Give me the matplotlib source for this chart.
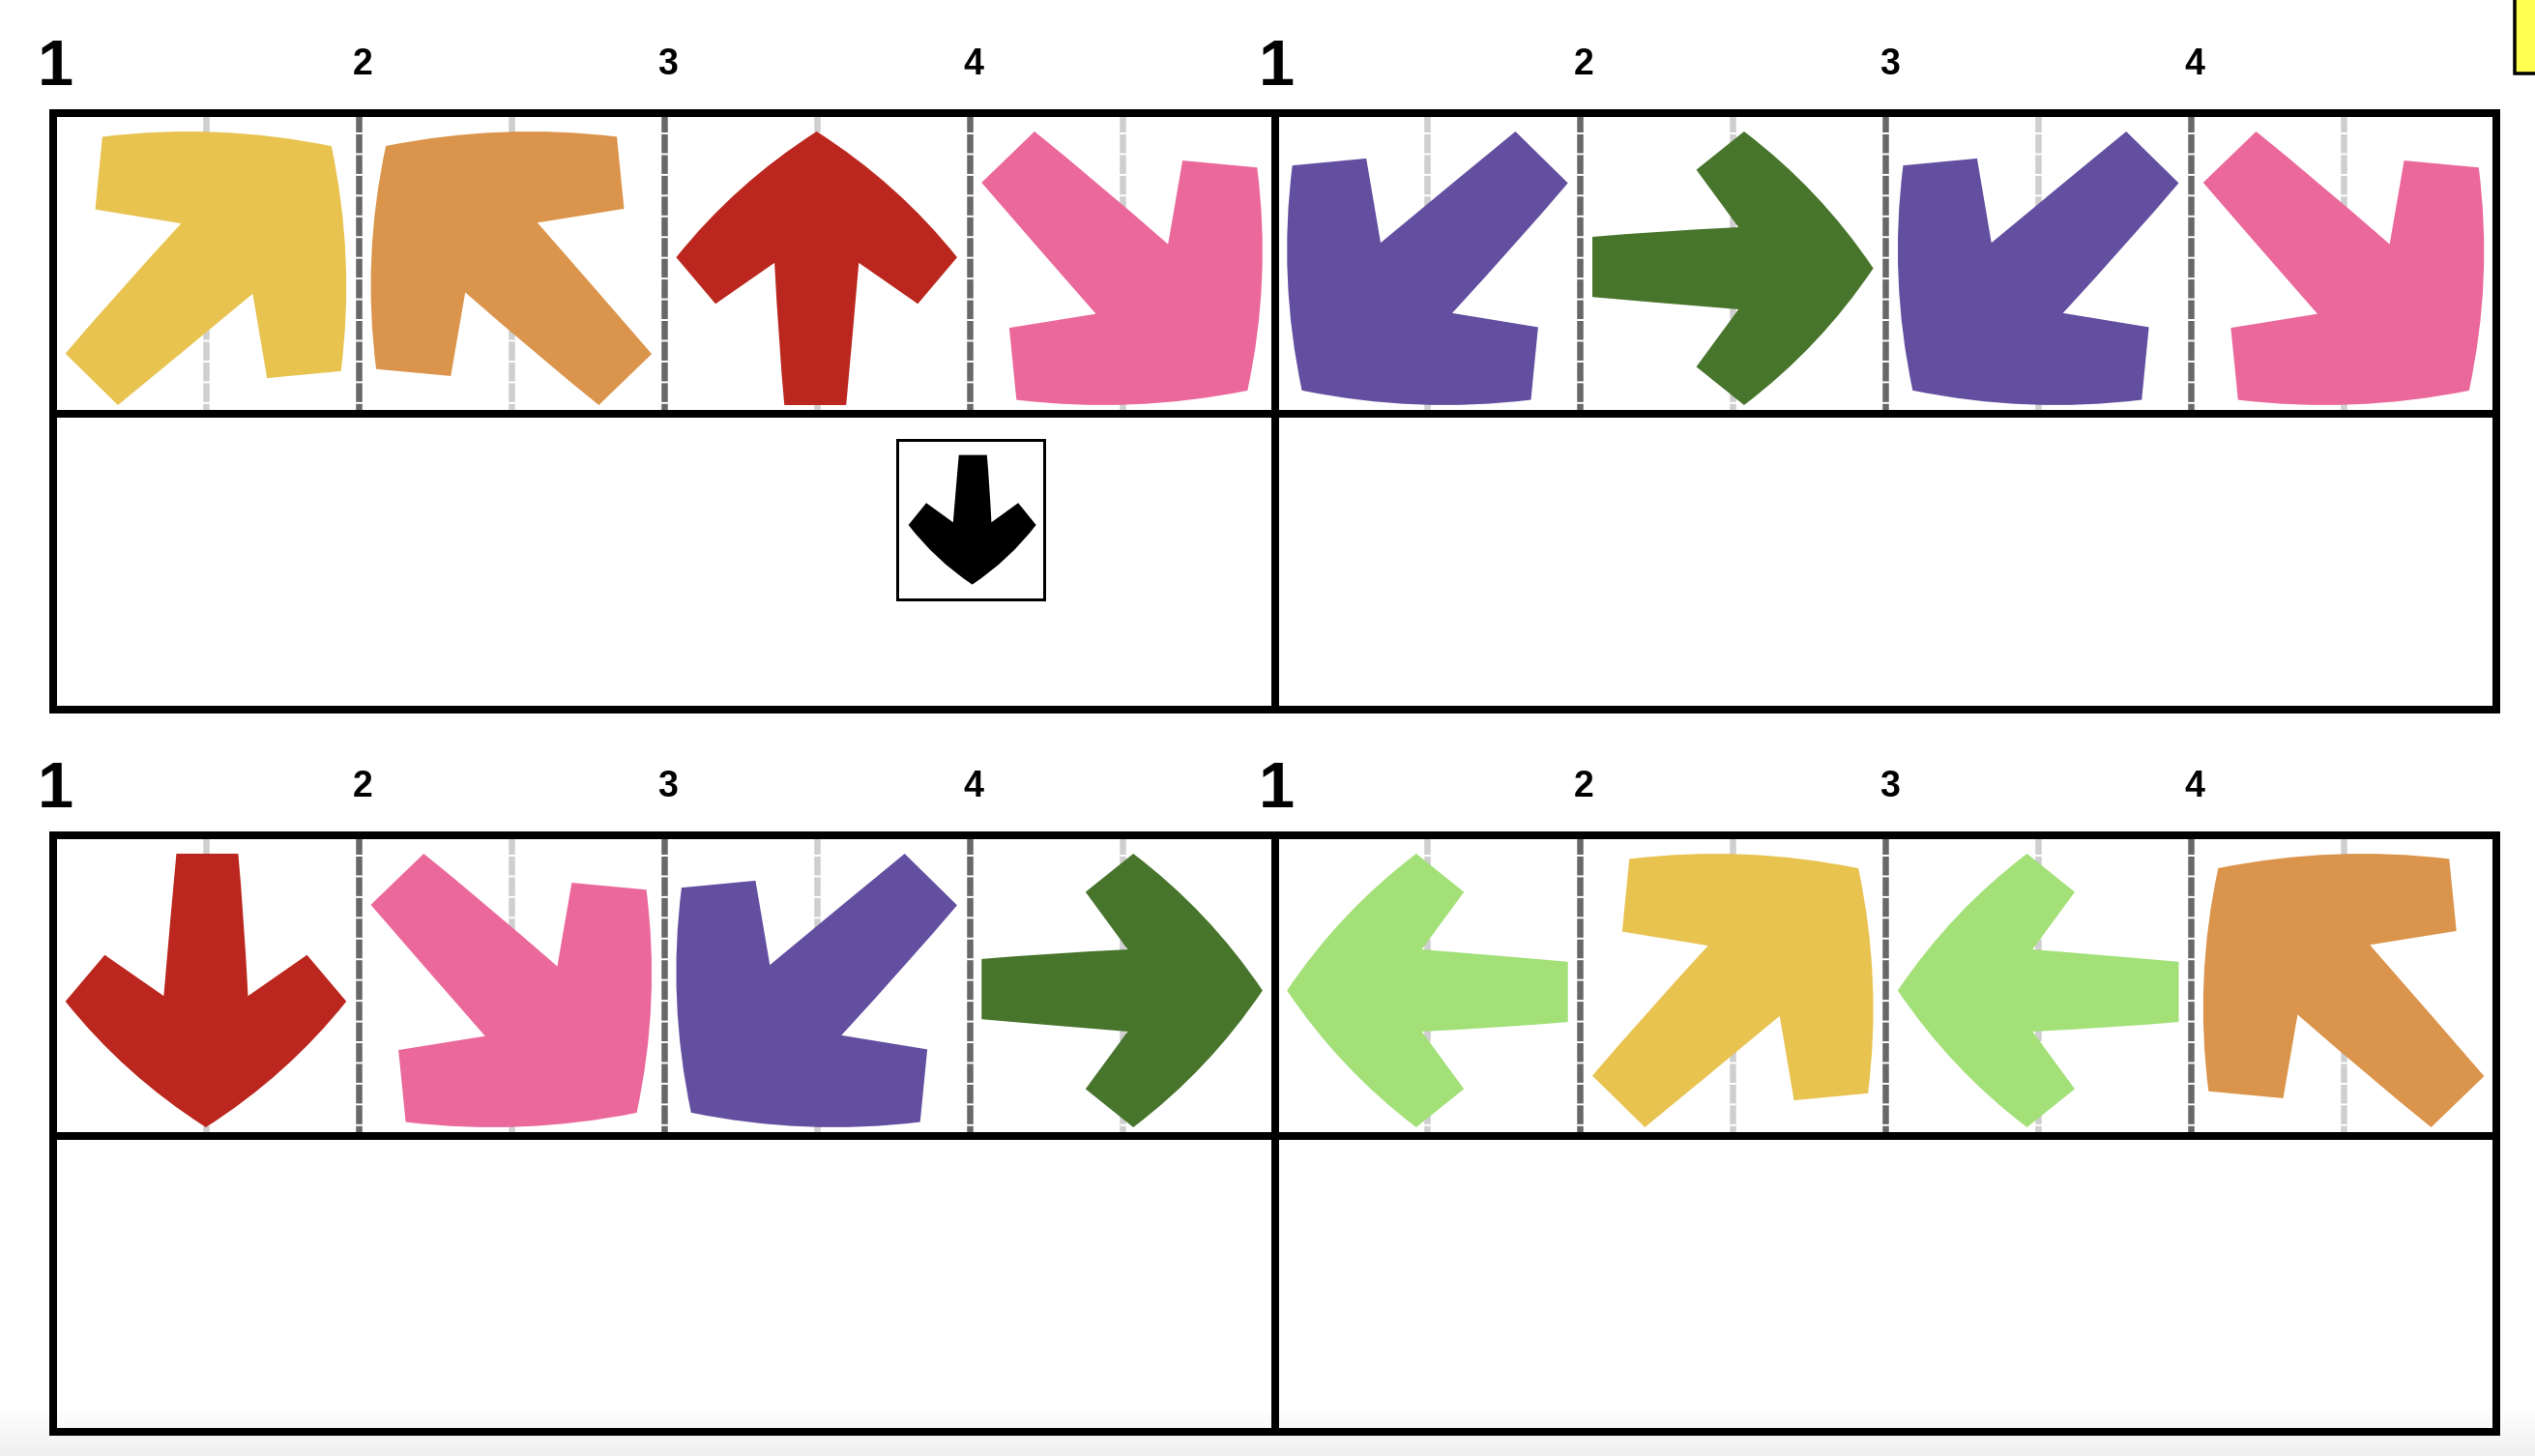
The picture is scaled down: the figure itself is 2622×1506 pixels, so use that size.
"""舞步谱面示意图：两行、每行两小节，每拍一个方向箭头。"""

import matplotlib

matplotlib.use("Agg")

import matplotlib.pyplot as plt
from matplotlib.patches import PathPatch, Rectangle
from matplotlib.path import Path
from matplotlib.transforms import Affine2D
import numpy as np

OUTPUT_PATH = "out.png"

# 谱面数据：每行 8 拍（2 小节 × 4 拍）
ROW_1_STEPS = ["UR", "UL", "U", "DR", "DL", "R", "DL", "DR"]
ROW_2_STEPS = ["D", "DR", "DL", "R", "L", "UR", "L", "UL"]
BEAT_LABELS = ["1", "2", "3", "4"]

# 下方提示框里的箭头（行号、拍位置）
HINT_STEPS = ["D"]
HINT_ROWS = [0]
HINT_BEATS = [3.0]

DIRECTION_ANGLES = {"U": 90, "UR": 45, "R": 0, "DR": -45,
                    "D": -90, "DL": -135, "L": 180, "UL": 135}
DIRECTION_COLORS = {
    "U": "#BB271E", "D": "#BB271E",
    "UR": "#E8C350", "UL": "#DB944B",
    "DR": "#EB689B", "DL": "#634FA0",
    "R": "#48752C", "L": "#A3E078",
}

# 版面（像素坐标）
FIG_W, FIG_H = 2622, 1506
X_LEFT = 55.0
MEASURE_W = 1263.5
BEAT_W = MEASURE_W / 4
ROW_TOP = [117.0, 864.0]
ROW_MID = [428.0, 1175.0]
ROW_BOTTOM = [734.0, 1481.0]
LABEL_BASE_BIG = [88.0, 835.0]
LABEL_BASE_SMALL = [77.0, 824.0]

PX = 0.72  # 像素 -> 磅
LINE_BLACK = 8 * PX
BEAT_LINE_COLOR = "#686868"
HALF_LINE_COLOR = "#CFCFCF"
LABEL_FONT = ["Liberation Sans", "DejaVu Sans"]


def arrow_path():
    """朝上的箭头轮廓（单位框内），外侧边略带弧度。"""
    verts = [
        (0.0, 0.50),
        (-0.29, 0.31), (-0.50, 0.04),
        (-0.36, -0.13),
        (-0.15, 0.02),
        (-0.135, -0.28), (-0.115, -0.50),
        (0.105, -0.50),
        (0.125, -0.28), (0.15, 0.02),
        (0.36, -0.13),
        (0.50, 0.04),
        (0.29, 0.31), (0.0, 0.50),
        (0.0, 0.50),
    ]
    codes = [Path.MOVETO, Path.CURVE3, Path.CURVE3, Path.LINETO, Path.LINETO,
             Path.CURVE3, Path.CURVE3, Path.LINETO, Path.CURVE3, Path.CURVE3,
             Path.LINETO, Path.LINETO, Path.CURVE3, Path.CURVE3, Path.CLOSEPOLY]
    return Path(verts, codes)


def place_arrow(ax, direction, cx, cy, width, height, color, zorder=5):
    rotated = arrow_path().transformed(Affine2D().rotate_deg(DIRECTION_ANGLES[direction] - 90))
    ext = rotated.get_extents()
    to_cell = (Affine2D()
               .translate(-(ext.x0 + ext.x1) / 2, -(ext.y0 + ext.y1) / 2)
               .scale(width / ext.width, -height / ext.height)
               .translate(cx, cy))
    ax.add_patch(PathPatch(rotated.transformed(to_cell), facecolor=color,
                           edgecolor="none", zorder=zorder))


def main():
    fig = plt.figure(figsize=(FIG_W / 100, FIG_H / 100), dpi=100, facecolor="white")
    ax = fig.add_axes((0, 0, 1, 1))
    ax.axis("off")

    # 底部淡灰渐变
    grad = np.linspace(1.0, 0.94, 50).reshape(-1, 1)
    ax.imshow(np.dstack([grad, grad, grad]), extent=(0, FIG_W, FIG_H, 1456),
              aspect="auto", zorder=0)
    ax.set_xlim(0, FIG_W)
    ax.set_ylim(FIG_H, 0)

    x_right = X_LEFT + 2 * MEASURE_W
    for row, steps in enumerate([ROW_1_STEPS, ROW_2_STEPS]):
        top, mid, bottom = ROW_TOP[row], ROW_MID[row], ROW_BOTTOM[row]

        # 拍线（深灰虚线）与半拍线（浅灰）
        for m in range(2):
            x0 = X_LEFT + m * MEASURE_W
            for b in range(4):
                xh = x0 + (b + 0.5) * BEAT_W
                ax.plot([xh, xh], [top, mid], color=HALF_LINE_COLOR, lw=6.5 * PX,
                        linestyle=(0, (3, 0.3)), zorder=2)
                if b > 0:
                    xb = x0 + b * BEAT_W
                    ax.plot([xb, xb], [top, mid], color=BEAT_LINE_COLOR, lw=6.5 * PX,
                            linestyle=(0, (3, 0.3)), zorder=2)

            # 拍号
            for b, label in enumerate(BEAT_LABELS):
                big = b == 0
                ax.text(x0 + b * BEAT_W + (2 if big else 4),
                        LABEL_BASE_BIG[row] if big else LABEL_BASE_SMALL[row],
                        label, ha="center", va="baseline",
                        fontsize=48 if big else 27, fontweight="bold",
                        family=LABEL_FONT, color="black", zorder=6)

        # 黑色框线
        for y in (top, mid, bottom):
            ax.plot([X_LEFT, x_right], [y, y], color="black", lw=LINE_BLACK,
                    solid_capstyle="projecting", zorder=4)
        for x in (X_LEFT, X_LEFT + MEASURE_W, x_right):
            ax.plot([x, x], [top, bottom], color="black", lw=LINE_BLACK,
                    solid_capstyle="projecting", zorder=4)

        # 每拍的箭头
        lane_h = mid - top
        for i, step in enumerate(steps):
            cx = X_LEFT + (i + 0.5) * BEAT_W
            cy = (top + mid) / 2 + 5
            place_arrow(ax, step, cx, cy, 0.92 * BEAT_W, 0.91 * lane_h,
                        DIRECTION_COLORS[step])

    # 提示框
    for step, row, beat in zip(HINT_STEPS, HINT_ROWS, HINT_BEATS):
        cx = X_LEFT + beat * BEAT_W + 1
        cy = ROW_MID[row] + 0.355 * (ROW_BOTTOM[row] - ROW_MID[row])
        ax.add_patch(Rectangle((cx - 76, cy - 82), 152, 165, facecolor="white",
                               edgecolor="black", lw=3 * PX, zorder=5))
        place_arrow(ax, step, cx + 2, cy + 1, 132, 134, "black", zorder=6)

    # 右上角黄色标记
    ax.add_patch(Rectangle((2601, -12), 40, 88, facecolor="#FFFF50",
                           edgecolor="black", lw=3.5 * PX, zorder=5))

    fig.savefig(OUTPUT_PATH, dpi=100, facecolor="white")
    plt.close(fig)


if __name__ == "__main__":
    main()
